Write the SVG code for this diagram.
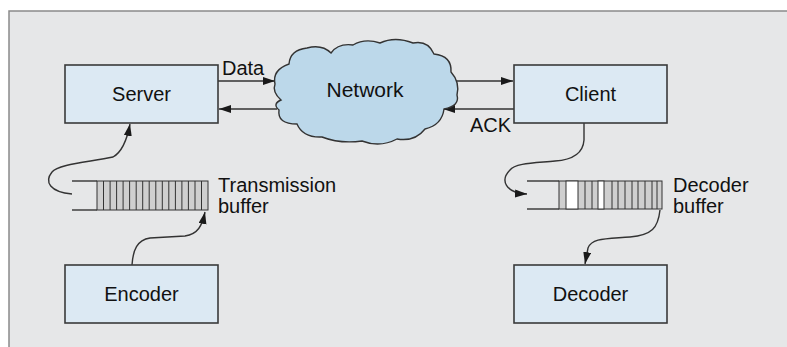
<svg xmlns="http://www.w3.org/2000/svg" width="787" height="347" viewBox="0 0 787 347">
<defs>
<style>
.box{fill:#dce9f3;stroke:#3a3a3a;stroke-width:1.6}
.lbl{font-family:"Liberation Sans",Arial,sans-serif;font-size:20px;fill:#111}
.ln{fill:none;stroke:#333;stroke-width:1.4}
.cell{fill:#cfcfcf;stroke:#333;stroke-width:1}
.wcell{fill:#ffffff;stroke:#333;stroke-width:1}
</style>
<marker id="ah" markerUnits="userSpaceOnUse" markerWidth="13" markerHeight="9" refX="12" refY="4" orient="auto">
<path d="M0,0 L12,4 L0,8 Z" fill="#1a1a1a"/>
</marker>
</defs>
<rect x="0" y="0" width="787" height="347" fill="#ffffff"/>
<rect x="9" y="11" width="778" height="336" fill="#e6e7e8"/>
<path d="M9,347 L9,11 L787,11" fill="none" stroke="#8a8a8a" stroke-width="1.5"/>

<g id="connectors">
<line class="ln" x1="218" y1="81" x2="275" y2="81" marker-end="url(#ah)"/>
<line class="ln" x1="277" y1="109" x2="219" y2="109" marker-end="url(#ah)"/>
<line class="ln" x1="453" y1="81" x2="513" y2="81" marker-end="url(#ah)"/>
<line class="ln" x1="514" y1="109" x2="443" y2="109" marker-end="url(#ah)"/>
<path class="ln" d="M72,194 C50,192 44,182 52,172 C58,164 90,162 113,157 C122,152 127,140 130,124" marker-end="url(#ah)"/>
<path class="ln" d="M132,265 C133,250 137,240 150,238 L185,236 C198,234 202,226 205,212" marker-end="url(#ah)"/>
<path class="ln" d="M584,123 L584,140 C583,155 570,160 555,161 C535,163 515,163 510,170 C500,180 505,193 527,194" marker-end="url(#ah)"/>
<path class="ln" d="M660,210 C658,228 652,235 630,237 C605,239 592,238 588,248 L585,264" marker-end="url(#ah)"/>
</g>

<g id="server">
<rect class="box" x="65" y="65" width="153" height="58"/>
<text class="lbl" x="141.5" y="101" text-anchor="middle">Server</text>
</g>
<g id="client">
<rect class="box" x="514" y="65" width="153" height="58"/>
<text class="lbl" x="590.5" y="101" text-anchor="middle">Client</text>
</g>
<g id="encoder">
<rect class="box" x="65" y="265" width="153" height="58"/>
<text class="lbl" x="141.5" y="301" text-anchor="middle">Encoder</text>
</g>
<g id="decoder">
<rect class="box" x="514" y="265" width="153" height="58"/>
<text class="lbl" x="590.5" y="301" text-anchor="middle">Decoder</text>
</g>

<g id="network">
<path d="M275,84 Q272,70 289,64 Q290,50 307,48 Q322,44 331,53 Q338,43 353,45 Q365,38 380,43 Q395,36 413,43 Q428,40 434,54 Q452,56 451,72 Q460,82 457,95 Q460,106 444,109 Q442,125 425,129 Q415,142 397,139 Q380,148 362,141 Q340,144 322,137 Q303,138 297,124 Q277,124 279,110 Q272,104 281,100 Q272,92 275,84 Z" fill="#bcd8ea" stroke="#333" stroke-width="1.4"/>
<text class="lbl" x="365" y="97" text-anchor="middle" style="font-size:21px">Network</text>
</g>

<g id="labels">
<text class="lbl" x="222" y="75">Data</text>
<text class="lbl" x="470" y="132">ACK</text>
</g>

<g id="transmission-buffer">
<line class="ln" x1="72" y1="181" x2="97" y2="181"/>
<line class="ln" x1="72" y1="210" x2="97" y2="210"/>
<rect class="cell" x="97" y="181" width="111" height="29"/>
<path d="M103.5,181V210M110.1,181V210M116.6,181V210M123.1,181V210M129.6,181V210M136.2,181V210M142.7,181V210M149.2,181V210M155.8,181V210M162.3,181V210M168.8,181V210M175.4,181V210M181.9,181V210M188.4,181V210M195,181V210M201.5,181V210" stroke="#333" stroke-width="1"/>
<text class="lbl" x="218" y="192">Transmission</text>
<text class="lbl" x="218" y="213">buffer</text>
</g>

<g id="decoder-buffer">
<line class="ln" x1="527" y1="181" x2="559" y2="181"/>
<line class="ln" x1="527" y1="209" x2="559" y2="209"/>
<rect class="cell" x="559" y="181" width="103" height="28"/>
<rect class="wcell" x="566" y="181" width="12" height="28"/>
<rect class="wcell" x="598" y="181" width="6" height="28"/>
<path d="M585,181V209M592,181V209M612,181V209M618,181V209M625,181V209M632,181V209M638,181V209M645,181V209M652,181V209M657,181V209" stroke="#333" stroke-width="1"/>
<text class="lbl" x="673" y="192">Decoder</text>
<text class="lbl" x="673" y="213">buffer</text>
</g>
</svg>
